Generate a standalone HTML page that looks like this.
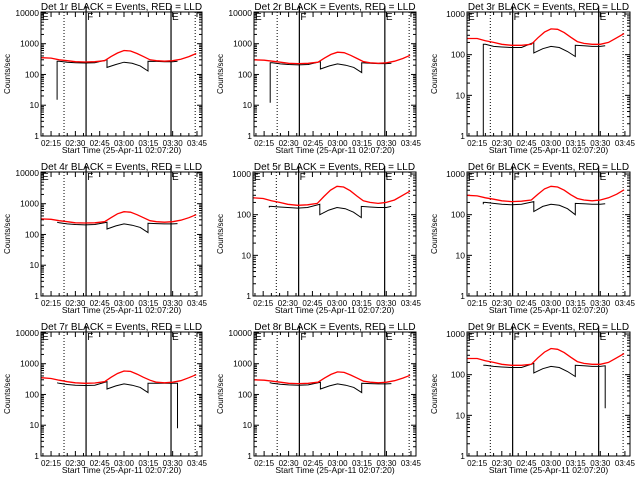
<!DOCTYPE html>
<html><head><meta charset="utf-8"><style>
html,body{margin:0;padding:0;background:#fff;width:640px;height:480px;overflow:hidden}
svg{display:block}
text{font-family:"Liberation Sans",sans-serif;fill:#000}
</style></head><body>
<svg id="chart" width="640" height="480"></svg>
<script>
const panelNames = ["1r","2r","3r","4r","5r","6r","7r","8r","9r"];
const redTimes = [8.8,15,20,25,30,36,42,48,52,56,60,64,68,72,76,80,85,90,95,100,104.5];
const blackTimes = [18.7,18.7,20,25,30,36,42,49.5,49.5,55,60,65,70,74.8,74.8,80,85,90,93];
const redValues = [
 [350,340,300,280,260,255,260,280,380,500,600,580,480,380,300,280,270,280,310,380,480],
 [300,290,270,250,230,225,230,250,340,450,530,510,420,330,260,240,230,240,270,330,420],
 [250,250,220,200,180,170,170,180,260,360,430,420,350,270,210,190,180,180,200,260,330],
 [320,310,280,260,240,235,240,260,350,470,550,530,440,350,280,260,250,260,290,350,440],
 [260,250,220,200,180,170,175,190,280,400,500,480,390,290,220,200,190,200,230,300,380],
 [300,290,260,240,220,210,215,230,320,430,500,480,400,310,250,230,220,230,260,320,410],
 [350,330,290,260,240,230,235,260,360,480,580,560,460,360,290,250,240,250,280,350,440],
 [300,290,270,250,230,225,230,250,340,450,540,520,430,340,270,250,240,250,280,340,420],
 [250,250,220,200,180,170,170,180,260,360,440,420,350,270,210,190,180,180,200,260,330]
];
const blackValues = [
 [15,270,270,250,240,235,240,300,170,210,250,230,190,130,270,265,260,260,270],
 [12,240,240,220,210,205,210,260,150,190,220,200,170,115,240,230,225,225,230],
 [0.5,180,180,160,155,150,150,200,110,140,160,150,120,90,170,165,160,160,165],
 [250,250,240,220,210,205,210,250,150,190,220,200,170,115,230,225,220,220,225],
 [150,160,160,155,150,145,150,180,100,130,150,140,115,85,160,155,150,150,160],
 [180,200,200,190,180,175,180,210,120,160,180,170,140,100,190,185,180,180,185],
 [240,240,230,210,200,195,200,260,150,190,220,200,170,115,230,230,230,230,230],
 [230,240,230,215,205,200,205,250,150,190,220,200,170,115,230,225,220,220,225],
 [170,170,170,160,155,150,150,190,110,140,160,150,120,90,170,165,160,160,165]
];
const endDrop = [null,null,null,null,null,null,8,null,15];
const yMaxDecade = [4,4,3,4,3,3,4,4,3];
const tickTimes = [15,30,45,60,75,90,105];
const tickLabels = ["02:15","02:30","02:45","03:00","03:15","03:30","03:45"];
const dottedTimes = [23,103.9];
const solidTimes = [36.6,89];

const T0 = 8.8, T1 = 108.1;
const NS = "http://www.w3.org/2000/svg";
const svg = document.getElementById("chart");
function mk(tag, attrs, parent){const e=document.createElementNS(NS,tag);for(const k in attrs)e.setAttribute(k,attrs[k]);(parent||svg).appendChild(e);return e;}

for(let p=0;p<9;p++){
  const col=p%3,row=Math.floor(p/3);
  const ox=[0,213,427][col], oy=row*160;
  const dec=yMaxDecade[p];
  const L=ox+(dec===4?41:40), R=ox+[202,203,203][col], T=oy+12, B=oy+136;
  const topLog = dec===4?4.03:3.05;
  const xs=t=>L+(t-T0)/(T1-T0)*(R-L);
  const ys=v=>{const lv=Math.log10(Math.max(v,0.3));return B-(lv/topLog)*(B-T);};
  const g=mk("g",{});
  
  
  const title=mk("text",{x:(L+R)/2,y:oy+10,"font-size":"10","text-anchor":"middle"},g);
  title.textContent="Det "+panelNames[p]+" BLACK = Events, RED = LLD";
  
  
  const yl=mk("text",{x:0,y:0,"font-size":"8","text-anchor":"middle",transform:`translate(${ox+10},${(T+B)/2}) rotate(-90)`},g);
  yl.textContent="Counts/sec";
  
  
  const xl=mk("text",{x:(L+R)/2,y:oy+153,"font-size":"8.5","text-anchor":"middle"},g);
  xl.textContent="Start Time (25-Apr-11 02:07:20)";
  
  
  // y ticks
  for(let d=0;d<=dec;d++){
    const y=ys(Math.pow(10,d));
    mk("line",{x1:L,x2:L+5,y1:y,y2:y,stroke:"#000","stroke-width":1},g);
    mk("line",{x1:R,x2:R-5,y1:y,y2:y,stroke:"#000","stroke-width":1},g);
    const tl=mk("text",{x:L-2,y:y+3,"font-size":"8.5","text-anchor":"end"},g);
    tl.textContent=String(Math.pow(10,d));
    
    
    for(let m=2;m<=9;m++){
      const v=m*Math.pow(10,d); if(Math.log10(v)>topLog)break;
      const ym=ys(v);
      mk("line",{x1:L,x2:L+3,y1:ym,y2:ym,stroke:"#000","stroke-width":1},g);
      mk("line",{x1:R,x2:R-3,y1:ym,y2:ym,stroke:"#000","stroke-width":1},g);
    }
  }
  // x ticks
  tickTimes.forEach((t,i)=>{
    const x=xs(t);
    mk("line",{x1:x,x2:x,y1:B,y2:B-5,stroke:"#000"},g);
    mk("line",{x1:x,x2:x,y1:T,y2:T+5,stroke:"#000"},g);
    const tl=mk("text",{x:x,y:B+10,"font-size":"8","text-anchor":"middle"},g);
    tl.textContent=tickLabels[i];
    
    
    for(let k=1;k<3;k++){const xm=xs(t-5*k); if(xm>L){mk("line",{x1:xm,x2:xm,y1:B,y2:B-3,stroke:"#000"},g);mk("line",{x1:xm,x2:xm,y1:T,y2:T+3,stroke:"#000"},g);}}
  });
  // vertical markers
  dottedTimes.forEach(t=>{const x=xs(t);const l=mk("line",{x1:x,x2:x,y1:T,y2:B,stroke:"#000","stroke-dasharray":"1,2"},g);});
  solidTimes.forEach(t=>{const x=xs(t);const l=mk("line",{x1:x,x2:x,y1:T-6,y2:B,stroke:"#000","stroke-width":1.2},g);});
  [["E",L+1],["F",xs(solidTimes[0])+1],["E",xs(solidTimes[1])+1]].forEach(([s,x])=>{const t=mk("text",{x:x,y:T+8,"font-size":"10"},g);t.textContent=s;});
  // clip
  const cid="c"+p;
  const cp=mk("clipPath",{id:cid},g);mk("rect",{x:L,y:T,width:R-L,height:B-T},cp);
  // black series
  let pts=blackTimes.map((t,i)=>xs(t).toFixed(1)+","+ys(blackValues[p][i]).toFixed(1));
  if(endDrop[p]!==null){const x=xs(blackTimes[blackTimes.length-1]);pts.push(x.toFixed(1)+","+ys(endDrop[p]).toFixed(1));}
  const bl=mk("polyline",{points:pts.join(" "),fill:"none",stroke:"#000","stroke-width":1,"clip-path":`url(#${cid})`},g);
  
  
  const rl=mk("polyline",{points:redTimes.map((t,i)=>xs(t).toFixed(1)+","+ys(redValues[p][i]).toFixed(1)).join(" "),fill:"none",stroke:"#f00","stroke-width":1.3,"clip-path":`url(#${cid})`},g);
  
  
  const box=mk("rect",{x:L,y:T,width:R-L,height:B-T,fill:"none",stroke:"#000","stroke-width":1},g);
  
  
}
</script>
</body></html>
